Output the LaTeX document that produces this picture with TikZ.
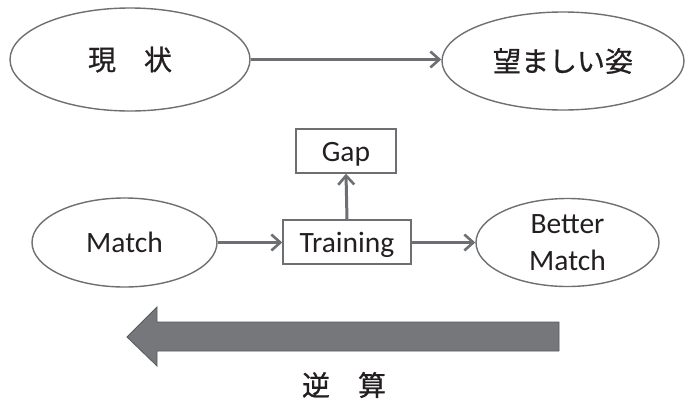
\documentclass[tikz,border=0pt]{standalone}
\usepackage{fontspec}
\setmainfont{Carlito}
\newfontfamily\jpfont[FakeBold=0.8]{Noto Sans CJK JP}
\usetikzlibrary{arrows.meta,shapes.geometric}
\definecolor{linegray}{HTML}{6E6F73}
\definecolor{arrowfill}{HTML}{76777A}
\definecolor{txt}{HTML}{231F20}
\begin{document}
\begin{tikzpicture}[x=1pt,y=-1pt,
  label font/.style={font=\fontsize{29.5}{37}\selectfont},
  oval/.style={ellipse,draw=linegray,line width=1.4pt,inner sep=0pt,text=txt,label font,align=center},
  boxnode/.style={rectangle,draw=linegray,line width=1.4pt,inner sep=0pt,text=txt,label font,text height=20pt,text depth=0pt},
  link/.style={draw=linegray,line width=3pt,-{Straight Barb[length=9pt,width=16pt,line width=2.6pt]}}]
\useasboundingbox (0,0) rectangle (686,402);
% top row
\node[oval,minimum width=240pt,minimum height=103pt] (now) at (130,59.5) {\jpfont\fontsize{28}{32}\selectfont 現　状};
\node[oval,minimum width=242pt,minimum height=98pt] (goal) at (563,61) {\jpfont\fontsize{28}{32}\selectfont 望ましい姿};
\draw[link] (now.east) -- (now.east -| goal.west);
% middle row
\node[boxnode,minimum width=100pt,minimum height=44pt] (gap) at (346,151) {Gap};
\node[boxnode,minimum width=128pt,minimum height=44pt] (train) at (347,242) {Training};
\node[oval,minimum width=185pt,minimum height=89pt,text height=20.5pt,text depth=0pt] (match) at (124.5,242.5) {Match};
\node[oval,minimum width=183pt,minimum height=88pt] (better) at (567.5,242.5) {Better\\Match};
\draw[link] (match.east) -- (train.west |- match.east);
\draw[link] (train.east |- better.west) -- (better.west);
\draw[link] (train.north) -- (gap.south);
% backward arrow
\coordinate (tip) at (127,337);
\filldraw[fill=arrowfill,draw=linegray!80!black,line width=0.8pt]
  (559,322) -- (157,322) -- (157,307) -- (tip) -- (157,366) -- (157,351) -- (559,351) -- cycle;
\node[text=txt,font=\jpfont\fontsize{28}{31}\selectfont] (back) at (344,385) {逆　算};
\end{tikzpicture}
\end{document}
